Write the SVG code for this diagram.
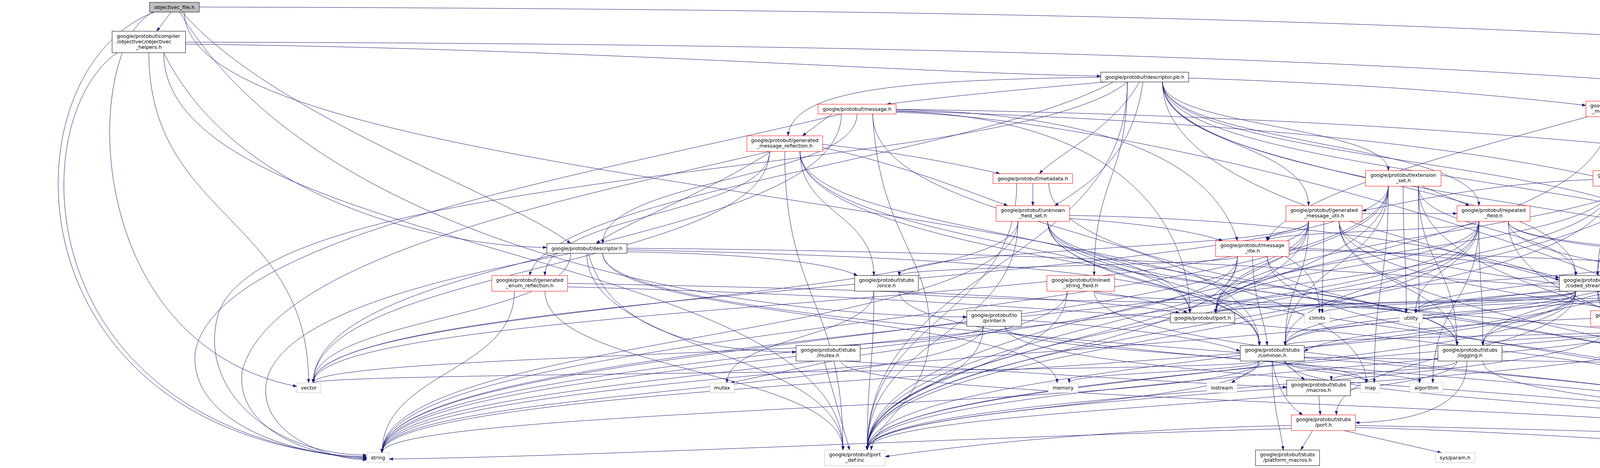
<svg xmlns="http://www.w3.org/2000/svg" width="6287" height="1199" viewBox="0 0 6287 1199">
<style>
.e path{fill:none;stroke:#191970;stroke-width:1;marker-end:url(#ah)}
.node rect{fill:#fff;stroke:#000;stroke-width:1}
.node.r rect{stroke:#f00}
.node.g rect{stroke:#bfbfbf}
.node.root rect{fill:#bfbfbf}
.node text{font-family:"DejaVu Sans","Liberation Sans",sans-serif;font-size:12.8px;fill:#000;text-anchor:middle}
.node text.l{text-anchor:start}
</style>
<defs>
<marker id="ah" markerWidth="10" markerHeight="8" refX="10" refY="4" orient="auto" markerUnits="userSpaceOnUse"><path d="M0,0.5L10,4L0,7.5z" fill="#191970" stroke="#191970" stroke-width="0.5"/></marker>
</defs>
<rect width="6287" height="1199" fill="#fff"/>
<g id="connectors" class="e">
<path d="M438,31L401,80"/>
<path d="M395,31C5,180 5,1120 939,1172"/>
<path d="M392,31C210,120 200,880 760,990"/>
<path d="M472,31C472,506 3498,506 3498,981"/>
<path d="M510,18C3500,25 6231,100 6231,500C6231,900 5500,993 5197,993"/>
<path d="M466,31C700,300 1300,500 1461,624"/>
<path d="M460,31C800,600 1800,810 2475,812"/>
<path d="M300,135C60,300 60,1100 939,1176"/>
<path d="M381,135C381,558 790,558 790,981"/>
<path d="M419,135C600,500 1100,630 1400,634"/>
<path d="M475,113C1500,125 2300,185 2818,195"/>
<path d="M419,135C419,644 2158,644 2158,1153"/>
<path d="M475,108C3000,112 6180,190 6180,700C6180,1100 5300,1173 4847,1173"/>
<path d="M2976,210C2976,551 5148,551 5148,892"/>
<path d="M2886,210C2600,450 700,420 560,800C500,1000 700,1166 939,1166"/>
<path d="M2886,210C2886,682 2220,682 2220,1153"/>
<path d="M2976,210C2976,682 4739,682 4739,1153"/>
<path d="M2976,210C2976,458 4034,458 4034,706"/>
<path d="M2976,210C2976,462 4565,462 4565,713"/>
<path d="M2976,210C2976,417 4284,417 4284,624"/>
<path d="M3043,200C3500,215 3800,240 4060,270"/>
<path d="M2976,210C2976,368 3350,368 3350,527"/>
<path d="M2886,210C2886,458 2801,458 2801,706"/>
<path d="M2917,210C2850,330 2700,400 2661,445"/>
<path d="M2818,198C2300,205 2030,230 2017,348"/>
<path d="M2830,210C2600,230 2400,250 2270,267"/>
<path d="M2976,210C2976,368 3786,368 3786,527"/>
<path d="M2976,210C2976,324 3554,324 3554,437"/>
<path d="M2850,210C2500,400 1400,500 1356,706"/>
<path d="M2926,210C2900,400 2790,470 2700,527"/>
<path d="M2154,292C1500,450 560,600 500,900C480,1080 750,1170 939,1170"/>
<path d="M2294,280C3800,300 5698,450 5698,802"/>
<path d="M2154,292C2154,637 802,637 802,981"/>
<path d="M2234,292C2234,589 3224,589 3224,885"/>
<path d="M2294,284C3500,320 4565,450 4565,713"/>
<path d="M2194,292C2194,458 1543,458 1543,624"/>
<path d="M2130,292L2054,348"/>
<path d="M2294,281C2800,290 3100,400 3168,617"/>
<path d="M2294,285C2900,300 3046,600 3046,802"/>
<path d="M2234,292C2250,600 2380,650 2380,850C2380,1020 2240,1080 2230,1153"/>
<path d="M2294,288C3000,300 4739,800 4739,1153"/>
<path d="M1970,388C1500,500 700,650 620,950C600,1100 800,1174 939,1174"/>
<path d="M1970,388C1970,685 802,685 802,981"/>
<path d="M2048,388C2048,637 3224,637 3224,885"/>
<path d="M1974,388C1800,500 1600,570 1526,624"/>
<path d="M1970,388C1970,547 1395,547 1395,706"/>
<path d="M2048,388C2048,547 2237,547 2237,706"/>
<path d="M2048,388C2048,595 3046,595 3046,802"/>
<path d="M2106,378C2300,420 2450,480 2580,527"/>
<path d="M2106,370C2300,390 2450,420 2560,445"/>
<path d="M2009,388C2009,770 2158,770 2158,1153"/>
<path d="M2048,388C2048,770 4739,770 4739,1153"/>
<path d="M2644,470L2644,527"/>
<path d="M2603,470C2603,811 2220,811 2220,1153"/>
<path d="M2685,470C2685,811 4739,811 4739,1153"/>
<path d="M2682,567C2682,863 6014,863 6014,1160"/>
<path d="M2606,567C2606,863 978,863 978,1160"/>
<path d="M2606,567C2606,774 802,774 802,981"/>
<path d="M2682,567C2682,726 3224,726 3224,885"/>
<path d="M2682,567C2682,726 3730,726 3730,885"/>
<path d="M2738,552C3300,560 3800,640 3992,718"/>
<path d="M2738,560C2900,570 3050,590 3130,617"/>
<path d="M2682,567C2682,685 3046,685 3046,802"/>
<path d="M2606,567C2606,860 2220,860 2220,1153"/>
<path d="M2682,567C2682,860 4739,860 4739,1153"/>
<path d="M4196,299C4196,462 5113,462 5113,624"/>
<path d="M4157,299L4157,437"/>
<path d="M4190,299L4290,348"/>
<path d="M4065,299C3700,400 3300,500 3244,617"/>
<path d="M4254,275C5000,290 5716,500 5716,802"/>
<path d="M4118,299C4118,726 2220,726 2220,1153"/>
<path d="M4196,299C4196,726 4739,726 4739,1153"/>
<path d="M4357,388C4357,595 5698,595 5698,802"/>
<path d="M4293,388C4293,547 4090,547 4090,706"/>
<path d="M4357,388C4357,506 5113,506 5113,624"/>
<path d="M4290,388L4200,437"/>
<path d="M4293,388C4293,595 3112,595 3112,802"/>
<path d="M4293,388C4293,770 2220,770 2220,1153"/>
<path d="M4325,388C4325,770 4770,770 4770,1153"/>
<path d="M4189,477C4189,818 6014,818 6014,1160"/>
<path d="M4126,477C4126,818 978,818 978,1160"/>
<path d="M4126,477C4126,591 4090,591 4090,706"/>
<path d="M4189,477C4189,595 4565,595 4565,713"/>
<path d="M4189,477C4189,550 4284,550 4284,624"/>
<path d="M4078,460C3800,470 3600,520 3487,540"/>
<path d="M4189,477C4189,550 5113,550 5113,624"/>
<path d="M4126,477C4126,640 3112,640 3112,802"/>
<path d="M4126,477C4126,815 2220,815 2220,1153"/>
<path d="M4189,477C4189,815 4739,815 4739,1153"/>
<path d="M3631,477C3631,729 3634,729 3634,981"/>
<path d="M3554,477C3554,729 3518,729 3518,981"/>
<path d="M3554,477C3554,818 978,818 978,1160"/>
<path d="M3592,477C3592,640 3600,640 3600,802"/>
<path d="M3554,477C3554,729 802,729 802,981"/>
<path d="M3554,477C3554,681 3290,681 3290,885"/>
<path d="M3631,477C3631,681 3730,681 3730,885"/>
<path d="M3631,477C3631,591 4034,591 4034,706"/>
<path d="M3554,477C3554,640 3112,640 3112,802"/>
<path d="M3640,477L3762,527"/>
<path d="M3554,477C3554,815 2220,815 2220,1153"/>
<path d="M3631,477C3631,815 4739,815 4739,1153"/>
<path d="M3428,567C3428,863 6014,863 6014,1160"/>
<path d="M3428,567C3428,730 4585,730 4585,892"/>
<path d="M3389,567C3389,685 3385,685 3385,802"/>
<path d="M3350,567C3350,863 978,863 978,1160"/>
<path d="M3350,567C3350,774 802,774 802,981"/>
<path d="M3428,567C3428,726 3730,726 3730,885"/>
<path d="M3350,567C3350,726 3290,726 3290,885"/>
<path d="M3350,567C3350,592 3244,592 3244,617"/>
<path d="M3350,567C3350,636 2302,636 2302,706"/>
<path d="M3350,567C3350,685 3112,685 3112,802"/>
<path d="M3487,547L3730,547"/>
<path d="M3350,567C3350,860 2220,860 2220,1153"/>
<path d="M3428,567C3428,860 4739,860 4739,1153"/>
<path d="M3786,567C3786,685 3624,685 3624,802"/>
<path d="M3786,567C3786,774 3668,774 3668,981"/>
<path d="M3861,567C3861,730 5148,730 5148,892"/>
<path d="M3786,567C3786,863 978,863 978,1160"/>
<path d="M3861,567C3861,685 5698,685 5698,802"/>
<path d="M3786,567C3786,726 3796,726 3796,885"/>
<path d="M3786,567C3786,726 3290,726 3290,885"/>
<path d="M3861,567C3861,640 4565,640 4565,713"/>
<path d="M3786,567C3786,592 3244,592 3244,617"/>
<path d="M3786,567C3786,685 3112,685 3112,802"/>
<path d="M3786,567C3786,860 2220,860 2220,1153"/>
<path d="M3861,567C3861,860 4739,860 4739,1153"/>
<path d="M1543,649C1543,815 2706,815 2706,981"/>
<path d="M1605,636C3500,650 5168,800 5168,981"/>
<path d="M1461,649C1200,700 680,800 680,1000C680,1120 850,1178 939,1178"/>
<path d="M1461,649C1461,815 802,815 802,981"/>
<path d="M1605,640C2500,660 3224,700 3224,885"/>
<path d="M1506,649C1560,850 1800,900 2038,902"/>
<path d="M1605,645C1900,650 2120,670 2195,706"/>
<path d="M1502,649C1502,901 2158,901 2158,1153"/>
<path d="M1543,649C1543,901 4739,901 4739,1153"/>
<path d="M1317,746C1317,953 978,953 978,1160"/>
<path d="M1453,726C2200,740 2800,760 3020,802"/>
<path d="M1395,746C1395,950 2158,950 2158,1153"/>
<path d="M1453,735C2500,760 4739,900 4739,1153"/>
<path d="M2237,746C2237,864 1861,864 1861,981"/>
<path d="M2302,746C2302,774 3600,774 3600,802"/>
<path d="M2237,746C2237,950 2220,950 2220,1153"/>
<path d="M2302,746C2302,950 4739,950 4739,1153"/>
<path d="M2732,746C2732,953 978,953 978,1160"/>
<path d="M2801,746C2801,774 3600,774 3600,802"/>
<path d="M2801,746C2900,760 3000,780 3040,802"/>
<path d="M2732,746C2732,950 2220,950 2220,1153"/>
<path d="M2801,746C2801,950 4739,950 4739,1153"/>
<path d="M3290,657C3370,700 3378,760 3378,802"/>
<path d="M3168,657C3168,909 978,909 978,1160"/>
<path d="M3206,657C3210,780 3240,820 3244,885"/>
<path d="M3244,657C3244,771 3730,771 3730,885"/>
<path d="M3300,635C3700,650 3900,680 3992,712"/>
<path d="M3300,640C4000,660 4500,680 4565,713"/>
<path d="M3168,657C3168,681 2302,681 2302,706"/>
<path d="M3168,657C3168,730 3112,730 3112,802"/>
<path d="M3168,657C3168,905 2220,905 2220,1153"/>
<path d="M3244,657C3244,905 4739,905 4739,1153"/>
<path d="M4090,746C4090,953 6014,953 6014,1160"/>
<path d="M4090,746C4090,819 4585,819 4585,892"/>
<path d="M4034,746C4034,774 3385,774 3385,802"/>
<path d="M4034,746C4034,953 978,953 978,1160"/>
<path d="M4090,746C4090,774 5698,774 5698,802"/>
<path d="M4034,746C4034,774 3624,774 3624,802"/>
<path d="M4034,746C4034,815 3290,815 3290,885"/>
<path d="M4034,746C4034,815 3796,815 3796,885"/>
<path d="M4034,746C4034,774 3112,774 3112,802"/>
<path d="M4034,746C4034,905 3421,905 3421,1063"/>
<path d="M4034,746C4034,950 2220,950 2220,1153"/>
<path d="M4090,746C4090,950 4739,950 4739,1153"/>
<path d="M4284,649C4284,905 978,905 978,1160"/>
<path d="M4370,649C4370,726 5698,726 5698,802"/>
<path d="M4284,649C4284,726 3624,726 3624,802"/>
<path d="M4380,649L4560,713"/>
<path d="M4284,649C4284,726 3112,726 3112,802"/>
<path d="M4284,649C4284,767 3290,767 3290,885"/>
<path d="M4290,649L4235,796"/>
<path d="M4284,649C4284,767 3796,767 3796,885"/>
<path d="M4284,649C4284,901 2220,901 2220,1153"/>
<path d="M4370,649C4370,901 4739,901 4739,1153"/>
<path d="M5150,649L5157,892"/>
<path d="M5168,649C5190,800 5185,900 5180,981"/>
<path d="M5113,649C5113,726 3624,726 3624,802"/>
<path d="M5113,649C5113,767 3290,767 3290,885"/>
<path d="M5061,640C4900,660 4750,690 4660,713"/>
<path d="M5113,649C5113,901 2220,901 2220,1153"/>
<path d="M5113,649C5113,901 4801,901 4801,1153"/>
<path d="M4690,728C5000,760 5148,800 5148,892"/>
<path d="M4690,726C5300,740 5600,760 5680,802"/>
<path d="M4565,738C4565,770 3624,770 3624,802"/>
<path d="M4640,738L4920,802"/>
<path d="M4570,738L4450,796"/>
<path d="M4565,738C4565,770 3112,770 3112,802"/>
<path d="M4565,738C4565,945 2220,945 2220,1153"/>
<path d="M4600,738C4600,945 4770,945 4770,1153"/>
<path d="M2573,836C2573,908 3498,908 3498,981"/>
<path d="M2517,836C2517,998 978,998 978,1160"/>
<path d="M2517,836C2517,908 802,908 802,981"/>
<path d="M2615,820C2900,840 3100,870 3175,900"/>
<path d="M2517,836C2517,994 2220,994 2220,1153"/>
<path d="M2573,836C2573,994 4739,994 4739,1153"/>
<path d="M4072,816C3700,830 3400,860 3339,900"/>
<path d="M4122,836C4122,994 2220,994 2220,1153"/>
<path d="M4188,836C4188,994 4739,994 4739,1153"/>
<path d="M4420,836L4580,892"/>
<path d="M4479,823C4800,840 5050,870 5131,900"/>
<path d="M4362,836C4362,860 3290,860 3290,885"/>
<path d="M4362,836C4362,860 3796,860 3796,885"/>
<path d="M4362,836C4362,994 2220,994 2220,1153"/>
<path d="M4396,836C4396,994 4770,994 4770,1153"/>
<path d="M2130,925L1870,981"/>
<path d="M2160,925C2700,960 3100,985 3294,992"/>
<path d="M2110,925L2175,1153"/>
<path d="M2153,925C2153,1039 4739,1039 4739,1153"/>
<path d="M3290,925C3290,953 3634,953 3634,981"/>
<path d="M3240,925L3152,981"/>
<path d="M3290,925C3290,953 3498,953 3498,981"/>
<path d="M3224,925C3224,953 2737,953 2737,981"/>
<path d="M3339,915C4200,930 5168,940 5168,981"/>
<path d="M3224,925C3224,1043 978,1043 978,1160"/>
<path d="M3224,925C3224,953 802,953 802,981"/>
<path d="M3285,925L3340,974"/>
<path d="M3257,925C3255,1040 3280,1100 3285,1153"/>
<path d="M3257,925C3270,1000 3300,1040 3335,1063"/>
<path d="M3224,925C3224,1039 2220,1039 2220,1153"/>
<path d="M3290,925C3290,1039 4739,1039 4739,1153"/>
<path d="M3730,925C3730,950 3408,950 3408,974"/>
<path d="M3755,925C3760,1050 3600,1080 3470,1083"/>
<path d="M3730,925C3730,1039 2220,1039 2220,1153"/>
<path d="M3796,925C3796,1039 4739,1039 4739,1153"/>
<path d="M3376,1014L3380,1063"/>
<path d="M3470,1090C4500,1110 5600,1160 5992,1172"/>
<path d="M3306,1098C2500,1120 1500,1170 996,1176"/>
<path d="M3360,1103L3330,1153"/>
<path d="M3440,1103L3690,1160"/>
<path d="M3306,1090C2800,1100 2400,1150 2266,1170"/>
<path d="M3470,1095C4000,1110 4500,1150 4693,1170"/>
</g>
<g id="objectivec_file_h" class="node root"><rect x="383" y="6" width="127" height="25"/><text x="446.5" y="23">objectivec_file.h</text></g>
<g id="objectivec_helpers_h" class="node"><rect x="287" y="80" width="188" height="55"/><text class="l" x="299" y="97">google/protobuf/compiler</text><text class="l" x="299" y="111">/objectivec/objectivec</text><text x="381" y="125">_helpers.h</text></g>
<g id="descriptor_pb_h" class="node"><rect x="2818" y="185" width="225" height="25"/><text x="2930.5" y="202">google/protobuf/descriptor.pb.h</text></g>
<g id="message_h" class="node r"><rect x="2094" y="267" width="200" height="25"/><text x="2194" y="284">google/protobuf/message.h</text></g>
<g id="generated_message_reflection_h" class="node r"><rect x="1912" y="348" width="194" height="40"/><text x="2009" y="364">google/protobuf/generated</text><text x="2009" y="378">_message_reflection.h</text></g>
<g id="metadata_h" class="node r"><rect x="2542" y="445" width="204" height="25"/><text x="2644" y="462">google/protobuf/metadata.h</text></g>
<g id="unknown_field_set_h" class="node r"><rect x="2550" y="527" width="188" height="40"/><text x="2644" y="543">google/protobuf/unknown</text><text x="2644" y="557">_field_set.h</text></g>
<g id="generated_message_table_driven_h" class="node r"><rect x="4060" y="259" width="194" height="40"/><text x="4157" y="275">google/protobuf/generated</text><text x="4157" y="289">_message_table_driven.h</text></g>
<g id="map_field_lite_h" class="node r"><rect x="4245" y="348" width="160" height="40"/><text x="4325" y="364">google/protobuf/map</text><text x="4325" y="378">_field_lite.h</text></g>
<g id="map_entry_lite_h" class="node r"><rect x="4078" y="437" width="159" height="40"/><text x="4157.5" y="453">google/protobuf/map</text><text x="4157.5" y="467">_entry_lite.h</text></g>
<g id="extension_set_h" class="node r"><rect x="3496" y="437" width="193" height="40"/><text x="3592.5" y="453">google/protobuf/extension</text><text x="3592.5" y="467">_set.h</text></g>
<g id="generated_message_util_h" class="node r"><rect x="3292" y="527" width="195" height="40"/><text x="3389.5" y="543">google/protobuf/generated</text><text x="3389.5" y="557">_message_util.h</text></g>
<g id="repeated_field_h" class="node r"><rect x="3730" y="527" width="187" height="40"/><text x="3823.5" y="543">google/protobuf/repeated</text><text x="3823.5" y="557">_field.h</text></g>
<g id="descriptor_h" class="node"><rect x="1400" y="624" width="205" height="25"/><text x="1502.5" y="641">google/protobuf/descriptor.h</text></g>
<g id="generated_enum_reflection_h" class="node r"><rect x="1259" y="706" width="194" height="40"/><text x="1356" y="722">google/protobuf/generated</text><text x="1356" y="736">_enum_reflection.h</text></g>
<g id="stubs_once_h" class="node"><rect x="2188" y="706" width="163" height="40"/><text x="2269.5" y="722">google/protobuf/stubs</text><text x="2269.5" y="736">/once.h</text></g>
<g id="inlined_string_field_h" class="node r"><rect x="2680" y="706" width="173" height="40"/><text x="2766.5" y="722">google/protobuf/inlined</text><text x="2766.5" y="736">_string_field.h</text></g>
<g id="message_lite_h" class="node r"><rect x="3112" y="617" width="188" height="40"/><text x="3206" y="633">google/protobuf/message</text><text x="3206" y="647">_lite.h</text></g>
<g id="io_coded_stream_h" class="node"><rect x="3992" y="706" width="140" height="40"/><text x="4062" y="722">google/protobuf/io</text><text x="4062" y="736">/coded_stream.h</text></g>
<g id="arenastring_h" class="node"><rect x="4219" y="624" width="215" height="25"/><text x="4326.5" y="641">google/protobuf/arenastring.h</text></g>
<g id="map_h" class="node r"><rect x="5061" y="624" width="172" height="25"/><text x="5147" y="641">google/protobuf/map.h</text></g>
<g id="arena_h" class="node"><rect x="4511" y="713" width="179" height="25"/><text x="4600.5" y="730">google/protobuf/arena.h</text></g>
<g id="io_printer_h" class="node"><rect x="2475" y="796" width="140" height="40"/><text x="2545" y="812">google/protobuf/io</text><text x="2545" y="826">/printer.h</text></g>
<g id="port_h" class="node"><rect x="2996" y="802" width="165" height="25"/><text x="3078.5" y="819">google/protobuf/port.h</text></g>
<g id="climits" class="node g"><rect x="3339" y="802" width="66" height="25"/><text x="3372" y="819">climits</text></g>
<g id="utility" class="node g"><rect x="3582" y="802" width="60" height="25"/><text x="3612" y="819">utility</text></g>
<g id="stubs_fastmem_h" class="node r"><rect x="4072" y="796" width="165" height="40"/><text x="4154.5" y="812">google/protobuf/stubs</text><text x="4154.5" y="826">/fastmem.h</text></g>
<g id="arena_impl_h" class="node"><rect x="4312" y="796" width="167" height="40"/><text x="4395.5" y="812">google/protobuf/arena</text><text x="4395.5" y="826">_impl.h</text></g>
<g id="typeinfo" class="node g"><rect x="4911" y="802" width="75" height="25"/><text x="4948.5" y="819">typeinfo</text></g>
<g id="type_traits" class="node g"><rect x="5670" y="802" width="92" height="25"/><text x="5716" y="819">type_traits</text></g>
<g id="stubs_mutex_h" class="node"><rect x="2038" y="885" width="164" height="40"/><text x="2120" y="901">google/protobuf/stubs</text><text x="2120" y="915">/mutex.h</text></g>
<g id="stubs_common_h" class="node"><rect x="3175" y="885" width="164" height="40"/><text x="3257" y="901">google/protobuf/stubs</text><text x="3257" y="915">/common.h</text></g>
<g id="stubs_logging_h" class="node"><rect x="3681" y="885" width="164" height="40"/><text x="3763" y="901">google/protobuf/stubs</text><text x="3763" y="915">/logging.h</text></g>
<g id="atomic" class="node g"><rect x="4565" y="892" width="67" height="25"/><text x="4598.5" y="909">atomic</text></g>
<g id="limits" class="node g"><rect x="5131" y="892" width="58" height="25"/><text x="5160" y="909">limits</text></g>
<g id="vector" class="node g"><rect x="760" y="981" width="61" height="25"/><text x="790.5" y="998">vector</text></g>
<g id="mutex" class="node g"><rect x="1817" y="981" width="63" height="25"/><text x="1848.5" y="998">mutex</text></g>
<g id="memory" class="node g"><rect x="2683" y="981" width="77" height="25"/><text x="2721.5" y="998">memory</text></g>
<g id="iostream" class="node g"><rect x="3089" y="981" width="78" height="25"/><text x="3128" y="998">iostream</text></g>
<g id="stubs_macros_h" class="node"><rect x="3294" y="974" width="163" height="40"/><text x="3375.5" y="990">google/protobuf/stubs</text><text x="3375.5" y="1004">/macros.h</text></g>
<g id="map" class="node g"><rect x="3483" y="981" width="50" height="25"/><text x="3508" y="998">map</text></g>
<g id="algorithm" class="node g"><rect x="3609" y="981" width="85" height="25"/><text x="3651.5" y="998">algorithm</text></g>
<g id="set" class="node g"><rect x="5155" y="981" width="42" height="25"/><text x="5176" y="998">set</text></g>
<g id="stubs_port_h" class="node r"><rect x="3306" y="1063" width="164" height="40"/><text x="3388" y="1079">google/protobuf/stubs</text><text x="3388" y="1093">/port.h</text></g>
<g id="string" class="node g"><rect x="939" y="1160" width="57" height="25"/><text x="967.5" y="1177">string</text></g>
<g id="port_def_inc" class="node g"><rect x="2111" y="1153" width="155" height="40"/><text x="2188.5" y="1169">google/protobuf/port</text><text x="2188.5" y="1183">_def.inc</text></g>
<g id="stubs_platform_macros_h" class="node"><rect x="3214" y="1153" width="164" height="40"/><text x="3296" y="1169">google/protobuf/stubs</text><text x="3296" y="1183">/platform_macros.h</text></g>
<g id="sys_param_h" class="node g"><rect x="3674" y="1160" width="102" height="25"/><text x="3725" y="1177">sys/param.h</text></g>
<g id="port_undef_inc" class="node g"><rect x="4693" y="1153" width="154" height="40"/><text x="4770" y="1169">google/protobuf/port</text><text x="4770" y="1183">_undef.inc</text></g>
<g id="assert_h" class="node"><rect x="5992" y="1160" width="74" height="25"/><text x="6029" y="1177">assert.h</text></g>
</svg>
